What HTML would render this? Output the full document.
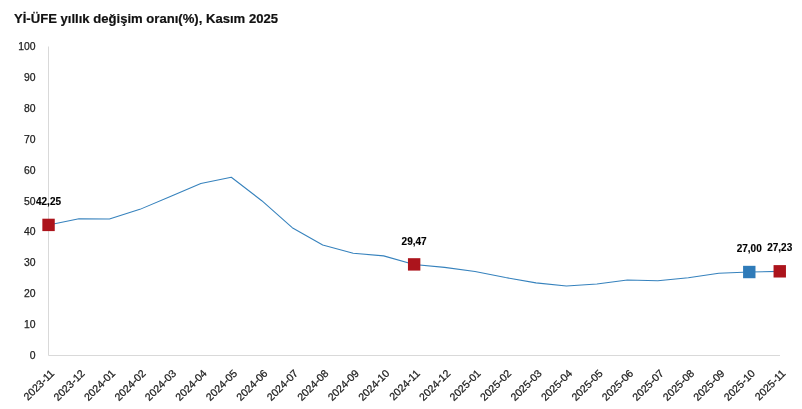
<!DOCTYPE html>
<html lang="tr"><head><meta charset="utf-8"><title>Yİ-ÜFE yıllık değişim oranı(%), Kasım 2025</title>
<style>
html,body{margin:0;padding:0;background:#fff;}
body{width:802px;height:409px;overflow:hidden;position:relative;font-family:"Liberation Sans",sans-serif;}
svg{position:absolute;left:0;top:0;}
.t{font-family:"Liberation Sans",sans-serif;font-weight:bold;font-size:13.15px;fill:#111;stroke:#111;stroke-width:0.2px;}
.a{font-family:"Liberation Sans",sans-serif;font-size:10.4px;fill:#222;stroke:#222;stroke-width:0.25px;}
.x{font-family:"Liberation Sans",sans-serif;font-size:10.6px;fill:#222;stroke:#222;stroke-width:0.25px;}
.v{font-family:"Liberation Sans",sans-serif;font-weight:bold;font-size:10px;fill:#000;stroke:#000;stroke-width:0.15px;}
</style></head><body>
<svg width="802" height="409" viewBox="0 0 802 409">
<rect width="802" height="409" fill="#fff"/>
<text class="t" x="14" y="22.9" textLength="264" lengthAdjust="spacingAndGlyphs">Yİ-ÜFE yıllık değişim oranı(%), Kasım 2025</text>
<path d="M48.5 46.5V355.5H780" fill="none" stroke="#d9d9d9" stroke-width="1"/>

<text class="a" x="35.6" y="359" text-anchor="end">0</text>
<text class="a" x="35.6" y="328" text-anchor="end">10</text>
<text class="a" x="35.6" y="297" text-anchor="end">20</text>
<text class="a" x="35.6" y="266" text-anchor="end">30</text>
<text class="a" x="35.6" y="235" text-anchor="end">40</text>
<text class="a" x="35.6" y="205" text-anchor="end">50</text>
<text class="a" x="35.6" y="174" text-anchor="end">60</text>
<text class="a" x="35.6" y="143" text-anchor="end">70</text>
<text class="a" x="35.6" y="112" text-anchor="end">80</text>
<text class="a" x="35.6" y="81" text-anchor="end">90</text>
<text class="a" x="35.6" y="50" text-anchor="end">100</text>
<text class="x" transform="translate(55.00 374.00) rotate(-45)" text-anchor="end">2023-11</text>
<text class="x" transform="translate(85.47 374.00) rotate(-45)" text-anchor="end">2023-12</text>
<text class="x" transform="translate(115.93 374.00) rotate(-45)" text-anchor="end">2024-01</text>
<text class="x" transform="translate(146.40 374.00) rotate(-45)" text-anchor="end">2024-02</text>
<text class="x" transform="translate(176.87 374.00) rotate(-45)" text-anchor="end">2024-03</text>
<text class="x" transform="translate(207.33 374.00) rotate(-45)" text-anchor="end">2024-04</text>
<text class="x" transform="translate(237.80 374.00) rotate(-45)" text-anchor="end">2024-05</text>
<text class="x" transform="translate(268.27 374.00) rotate(-45)" text-anchor="end">2024-06</text>
<text class="x" transform="translate(298.73 374.00) rotate(-45)" text-anchor="end">2024-07</text>
<text class="x" transform="translate(329.20 374.00) rotate(-45)" text-anchor="end">2024-08</text>
<text class="x" transform="translate(359.67 374.00) rotate(-45)" text-anchor="end">2024-09</text>
<text class="x" transform="translate(390.13 374.00) rotate(-45)" text-anchor="end">2024-10</text>
<text class="x" transform="translate(420.60 374.00) rotate(-45)" text-anchor="end">2024-11</text>
<text class="x" transform="translate(451.07 374.00) rotate(-45)" text-anchor="end">2024-12</text>
<text class="x" transform="translate(481.53 374.00) rotate(-45)" text-anchor="end">2025-01</text>
<text class="x" transform="translate(512.00 374.00) rotate(-45)" text-anchor="end">2025-02</text>
<text class="x" transform="translate(542.47 374.00) rotate(-45)" text-anchor="end">2025-03</text>
<text class="x" transform="translate(572.93 374.00) rotate(-45)" text-anchor="end">2025-04</text>
<text class="x" transform="translate(603.40 374.00) rotate(-45)" text-anchor="end">2025-05</text>
<text class="x" transform="translate(633.87 374.00) rotate(-45)" text-anchor="end">2025-06</text>
<text class="x" transform="translate(664.33 374.00) rotate(-45)" text-anchor="end">2025-07</text>
<text class="x" transform="translate(694.80 374.00) rotate(-45)" text-anchor="end">2025-08</text>
<text class="x" transform="translate(725.27 374.00) rotate(-45)" text-anchor="end">2025-09</text>
<text class="x" transform="translate(755.73 374.00) rotate(-45)" text-anchor="end">2025-10</text>
<text class="x" transform="translate(786.20 374.00) rotate(-45)" text-anchor="end">2025-11</text>
<polyline points="48.50,224.95 78.97,218.86 109.43,218.92 139.90,209.37 170.37,196.46 200.83,183.51 231.30,177.27 261.77,200.72 292.23,227.67 322.70,245.03 353.17,253.25 383.63,255.88 414.10,264.44 444.57,267.37 475.03,271.45 505.50,277.60 535.97,282.88 566.43,285.98 596.90,284.03 627.37,279.95 657.83,280.75 688.30,277.76 718.77,273.34 749.23,272.07 779.70,271.36" fill="none" stroke="#3682bd" stroke-width="1.05" stroke-linejoin="round"/>
<rect x="42.35" y="218.70" width="12.4" height="12.4" fill="#ac141c"/>
<text class="v" x="48.50" y="205.05" text-anchor="middle">42,25</text>
<rect x="407.95" y="258.19" width="12.4" height="12.4" fill="#ac141c"/>
<text class="v" x="414.10" y="244.54" text-anchor="middle">29,47</text>
<rect x="743.08" y="265.82" width="12.4" height="12.4" fill="#2f7bb9"/>
<text class="v" x="749.23" y="252.17" text-anchor="middle">27,00</text>
<rect x="773.55" y="265.11" width="12.4" height="12.4" fill="#ac141c"/>
<text class="v" x="779.70" y="251.46" text-anchor="middle">27,23</text>
</svg></body></html>
